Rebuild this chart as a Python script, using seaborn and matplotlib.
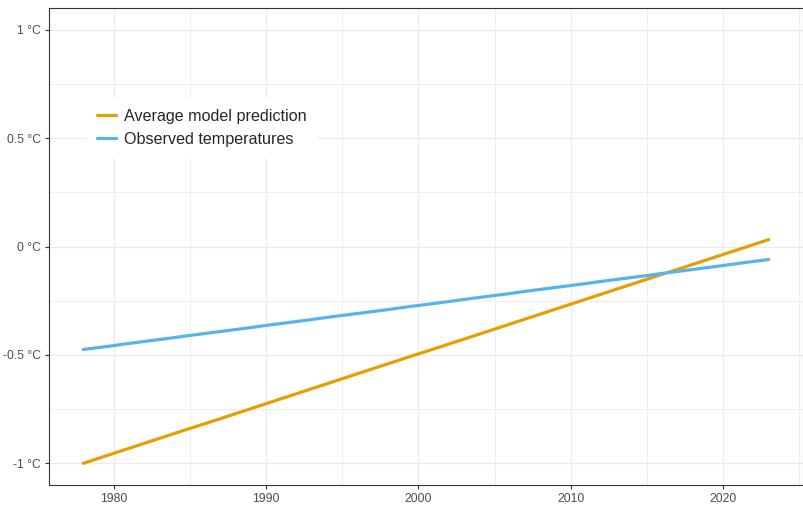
import matplotlib
matplotlib.use("Agg")
import matplotlib.pyplot as plt
import seaborn as sns
import pandas as pd

years = list(range(1978, 2024))

model_prediction = [
    -1.000, -0.977, -0.954, -0.931, -0.908, -0.885, -0.862, -0.839, -0.817, -0.794,
    -0.771, -0.748, -0.725, -0.702, -0.679, -0.656, -0.633, -0.610, -0.587, -0.564,
    -0.541, -0.518, -0.495, -0.473, -0.450, -0.427, -0.404, -0.381, -0.358, -0.335,
    -0.312, -0.289, -0.266, -0.243, -0.220, -0.197, -0.174, -0.151, -0.128, -0.106,
    -0.083, -0.060, -0.037, -0.014, 0.009, 0.032,
]

observed = [
    -0.475, -0.466, -0.457, -0.447, -0.438, -0.429, -0.420, -0.410, -0.401, -0.392,
    -0.383, -0.374, -0.364, -0.355, -0.346, -0.337, -0.327, -0.318, -0.309, -0.300,
    -0.291, -0.281, -0.272, -0.263, -0.254, -0.244, -0.235, -0.226, -0.217, -0.207,
    -0.198, -0.189, -0.180, -0.171, -0.161, -0.152, -0.143, -0.134, -0.124, -0.115,
    -0.106, -0.097, -0.088, -0.078, -0.069, -0.060,
]

series_names = ["Average model prediction", "Observed temperatures"]
series_colors = ["#E69F00", "#56B4E9"]

y_ticks = [-1, -0.5, 0, 0.5, 1]
y_tick_labels = ["-1 °C", "-0.5 °C", "0 °C", "0.5 °C", "1 °C"]
x_ticks = [1980, 1990, 2000, 2010, 2020]

df = pd.DataFrame({
    "year": years * 2,
    "temp": model_prediction + observed,
    "series": [series_names[0]] * len(years) + [series_names[1]] * len(years),
})

sns.set_theme(style="white")
plt.rcParams["font.family"] = ["Liberation Sans", "DejaVu Sans"]

W, H = 804, 505
fig = plt.figure(figsize=(W / 100, H / 100), dpi=100)
ax = fig.add_axes([49 / W, 20 / H, 754 / W, 477 / H])

# grid: major and minor lines in light grey
for v in [-1, -0.5, 0, 0.5, 1]:
    ax.axhline(v, color="#EBEBEB", lw=0.9, zorder=0)
for v in [-0.75, -0.25, 0.25, 0.75]:
    ax.axhline(v, color="#EBEBEB", lw=0.6, zorder=0)
for v in x_ticks:
    ax.axvline(v, color="#EBEBEB", lw=0.9, zorder=0)
for v in [1975, 1985, 1995, 2005, 2015, 2025]:
    ax.axvline(v, color="#EBEBEB", lw=0.6, zorder=0)

sns.lineplot(data=df, x="year", y="temp", hue="series", hue_order=series_names,
             palette=series_colors, linewidth=2.3, ax=ax, zorder=3)

ax.set_xlim(1975.75, 2025.25)
ax.set_ylim(-1.1, 1.1)
ax.set_xticks(x_ticks)
ax.set_xticklabels([str(x) for x in x_ticks])
ax.set_yticks(y_ticks)
ax.set_yticklabels(y_tick_labels)
ax.set_xlabel("")
ax.set_ylabel("")
ax.tick_params(axis="both", which="major", length=3, width=0.8, color="#333333",
               labelsize=8.8, labelcolor="#4D4D4D", pad=3, left=True, bottom=True)

for side in ["left", "bottom", "top", "right"]:
    ax.spines[side].set_visible(True)
    ax.spines[side].set_color("#333333")
    ax.spines[side].set_linewidth(0.8)

leg = ax.legend(loc="upper left", bbox_to_anchor=(87 / W, 1 - 99 / H),
                bbox_transform=fig.transFigure, borderaxespad=0, frameon=True,
                fontsize=11.6, handlelength=1.2, handletextpad=0.5,
                labelspacing=0.5, borderpad=0.62, fancybox=False)
leg.get_frame().set_facecolor("white")
leg.get_frame().set_edgecolor("white")
leg.get_frame().set_alpha(1)
for line in leg.get_lines():
    line.set_linewidth(2.3)
leg.set_zorder(5)

fig.savefig("out.png", dpi=100)
